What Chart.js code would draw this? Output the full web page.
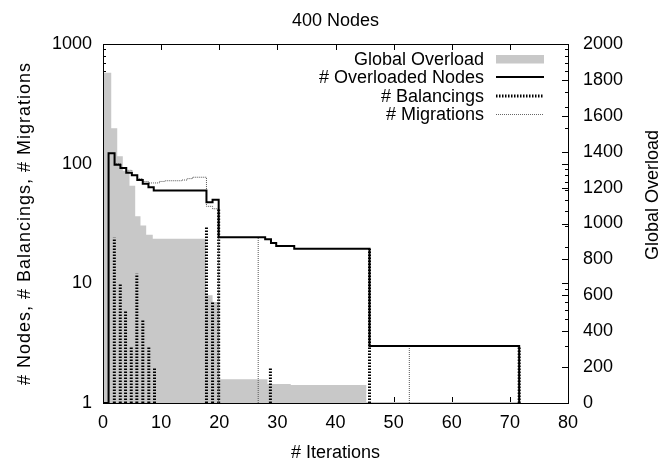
<!DOCTYPE html>
<html>
<head>
<meta charset="utf-8">
<script src="https://cdn.jsdelivr.net/npm/chart.js@4.4.1/dist/chart.umd.min.js"></script>
<style>
  html, body { margin: 0; padding: 0; background: #fff; }
  #wrap { position: relative; width: 659px; height: 461px; }
</style>
</head>
<body>
<div id="wrap"><canvas id="c"></canvas></div>
<script>
// ---- tick labels ----
const xTicks = [0, 10, 20, 30, 40, 50, 60, 70, 80];
const yLeftTicks = [1, 10, 100, 1000];
const yRightTicks = [0, 200, 400, 600, 800, 1000, 1200, 1400, 1600, 1800, 2000];

// ---- Global Overload (right axis), step boundaries and values ----
const overloadX = [0, 1.42, 2.45, 3.41, 4.56, 5.54, 6.45, 7.43, 8.56, 17.7, 18.85, 20.0, 28.3, 32.3, 45.3, 71.6];
const overloadV = [1840, 1530, 1374, 1294, 1211, 1040, 989, 937, 915, 600, 563, 132, 106, 100, 6, 0];

// ---- # Overloaded Nodes (left log axis), steps ----
const nodesX = [0, 0.96, 1.99, 3.0, 4.0, 4.96, 5.9, 6.84, 7.82, 8.73, 17.8, 18.85, 19.9, 27.9, 28.9, 29.8, 32.9, 45.85, 71.6];
const nodesV = [1, 122, 98, 92, 84, 80, 73, 68, 63.5, 59.6, 47.6, 50, 24.3, 23.3, 21.7, 20.5, 19.5, 3, 1];

// ---- # Balancings (impulses) ----
const balX = [1.95, 2.97, 3.88, 4.86, 5.82, 6.85, 7.88, 8.86, 17.8, 18.85, 19.9, 28.8, 45.85, 71.6];
const balV = [24, 10, 6, 3, 12, 5, 3, 2, 30, 7, 42, 2, 19.5, 3];

// ---- # Migrations (steps, then impulses) ----
const migX = [0.96, 1.99, 3.0, 4.0, 4.96, 5.9, 6.84, 7.82, 8.73, 9.7, 10.7, 11.6, 12.6, 13.5, 14.5, 15.4, 16.4, 17.8, 18.85, 19.9];
const migV = [122, 100, 92, 88, 80, 75, 71, 69, 69, 71, 72, 72, 72, 73, 75, 77, 77, 44, 42, 1];
const migImpX = [26.7, 52.7];
const migImpV = [24, 3];

const FONT = "'Liberation Sans', Arial, Helvetica, sans-serif";
const FSIZE = 18;
const GRAY = '#c8c8c8';

function pairs(xs, vs) { return xs.map((x, i) => ({ x: x, y: vs[i] })); }
function impulses(xs, vs) {
  const out = [];
  xs.forEach((x, i) => { out.push({ x: x, y: 1 }, { x: x, y: vs[i] }, { x: x, y: null }); });
  return out;
}

const migData = pairs(migX, migV).concat([{ x: migX[migX.length - 1], y: null }], impulses(migImpX, migImpV));

Chart.defaults.font.family = FONT;
Chart.defaults.font.size = FSIZE;
Chart.defaults.color = '#000';

const ticksPlugin = {
  id: 'gpTicks',
  beforeDatasetsDraw(chart) {
    const ctx = chart.ctx, a = chart.chartArea;
    const sx = chart.scales.x, sy = chart.scales.y, sy2 = chart.scales.y2;
    ctx.save();
    ctx.strokeStyle = '#000';
    ctx.lineWidth = 1;
    ctx.beginPath();
    xTicks.forEach(v => {
      const p = Math.round(sx.getPixelForValue(v)) + 0.5;
      ctx.moveTo(p, a.bottom); ctx.lineTo(p, a.bottom - 6);
      ctx.moveTo(p, a.top); ctx.lineTo(p, a.top + 6);
    });
    for (let d = 1; d < 1000; d *= 10) {
      for (let m = 1; m <= 10; m++) {
        const v = d * m;
        const p = Math.round(sy.getPixelForValue(v)) + 0.5;
        const len = (m === 1 || m === 10) ? 6 : 3;
        ctx.moveTo(a.left, p); ctx.lineTo(a.left + len, p);
        ctx.moveTo(a.right, p); ctx.lineTo(a.right - len, p);
      }
    }
    yRightTicks.forEach(v => {
      const p = Math.round(sy2.getPixelForValue(v)) + 0.5;
      ctx.moveTo(a.right, p); ctx.lineTo(a.right - 6, p);
    });
    ctx.stroke();
    ctx.restore();
  },
  afterDatasetsDraw(chart) {
    const ctx = chart.ctx, a = chart.chartArea;
    ctx.save();
    ctx.strokeStyle = '#000';
    ctx.lineWidth = 1;
    ctx.strokeRect(Math.round(a.left) + 0.5, Math.round(a.top) + 0.5,
                   Math.round(a.right - a.left), Math.round(a.bottom - a.top));
    ctx.restore();
  },
  afterDraw(chart) {
    const ctx = chart.ctx, a = chart.chartArea;
    ctx.save();
    ctx.fillStyle = '#000';
    ctx.font = FSIZE + 'px ' + FONT;
    ctx.textBaseline = 'alphabetic';
    // title
    ctx.textAlign = 'center';
    ctx.fillText('400 Nodes', (a.left + a.right) / 2, 26);
    // x title
    ctx.fillText('# Iterations', (a.left + a.right) / 2, 458);
    // left title
    ctx.save();
    ctx.translate(29.5, (a.top + a.bottom) / 2);
    ctx.rotate(-Math.PI / 2);
    if ('letterSpacing' in ctx) ctx.letterSpacing = '1px';
    ctx.fillText('# Nodes, # Balancings, # Migrations', 0, 0);
    ctx.restore();
    // right title
    ctx.save();
    ctx.translate(658, 195);
    ctx.rotate(-Math.PI / 2);
    ctx.fillText('Global Overload', 0, 0);
    ctx.restore();
    // legend
    ctx.textAlign = 'right';
    const tx = 484, x1 = 496, x2 = 544;
    const rows = ['Global Overload', '# Overloaded Nodes', '# Balancings', '# Migrations'];
    const base = [64.5, 83, 101.5, 120];
    rows.forEach((t, i) => ctx.fillText(t, tx, base[i]));
    ctx.fillStyle = GRAY;
    ctx.fillRect(x1, 55, x2 - x1, 8.5);
    ctx.strokeStyle = '#000';
    ctx.lineWidth = 2;
    ctx.beginPath(); ctx.moveTo(x1, 77); ctx.lineTo(x2, 77); ctx.stroke();
    ctx.lineWidth = 3;
    ctx.setLineDash([1.5, 1.5]);
    ctx.beginPath(); ctx.moveTo(x1, 96); ctx.lineTo(x2, 96); ctx.stroke();
    ctx.lineWidth = 1;
    ctx.strokeStyle = '#666';
    ctx.setLineDash([1, 1]);
    ctx.beginPath(); ctx.moveTo(x1, 114.5); ctx.lineTo(x2, 114.5); ctx.stroke();
    ctx.restore();
  }
};

new Chart(document.getElementById('c'), {
  type: 'line',
  data: {
    datasets: [
      {
        label: '# Overloaded Nodes',
        data: pairs(nodesX, nodesV),
        yAxisID: 'y',
        stepped: true,
        borderColor: '#000',
        borderWidth: 2,
        pointRadius: 0,
        fill: false,
        order: 1
      },
      {
        label: '# Migrations',
        data: migData,
        yAxisID: 'y',
        stepped: true,
        borderColor: '#555',
        borderWidth: 1,
        borderDash: [1, 1],
        pointRadius: 0,
        fill: false,
        order: 2
      },
      {
        label: '# Balancings',
        data: impulses(balX, balV),
        yAxisID: 'y',
        stepped: true,
        borderColor: '#000',
        borderWidth: 3,
        borderDash: [1.5, 1.5],
        pointRadius: 0,
        fill: false,
        order: 3
      },
      {
        label: 'Global Overload',
        data: pairs(overloadX, overloadV),
        yAxisID: 'y2',
        stepped: true,
        borderWidth: 0,
        borderColor: GRAY,
        backgroundColor: GRAY,
        pointRadius: 0,
        fill: 'origin',
        order: 4
      }
    ]
  },
  options: {
    responsive: true,
    maintainAspectRatio: false,
    animation: false,
    events: [],
    layout: { padding: { top: 44, left: 0, right: 0, bottom: 0 } },
    plugins: { legend: { display: false }, tooltip: { enabled: false }, title: { display: false } },
    scales: {
      x: {
        type: 'linear',
        position: 'bottom',
        min: 0, max: 80,
        grid: { display: false, drawTicks: false },
        border: { display: false },
        ticks: { padding: 9, maxRotation: 0, callback: v => String(v) },
        afterBuildTicks: s => { s.ticks = xTicks.map(v => ({ value: v })); },
        afterFit: s => { s.height = 58; }
      },
      y: {
        type: 'logarithmic',
        position: 'left',
        min: 1, max: 1000,
        grid: { display: false, drawTicks: false },
        border: { display: false },
        ticks: { padding: 11, callback: v => String(v) },
        afterBuildTicks: s => { s.ticks = yLeftTicks.map(v => ({ value: v })); },
        afterFit: s => { s.width = 103; }
      },
      y2: {
        type: 'linear',
        position: 'right',
        min: 0, max: 2000,
        grid: { display: false, drawTicks: false },
        border: { display: false },
        ticks: { padding: 15, callback: v => String(v) },
        afterBuildTicks: s => { s.ticks = yRightTicks.map(v => ({ value: v })); },
        afterFit: s => { s.width = 91; }
      }
    }
  },
  plugins: [ticksPlugin]
});
</script>
</body>
</html>
